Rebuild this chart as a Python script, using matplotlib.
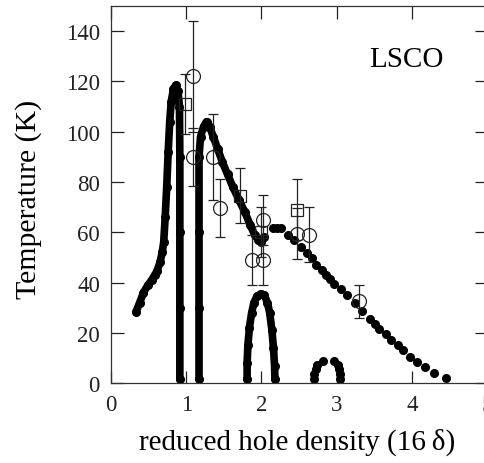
import matplotlib
matplotlib.use("Agg")
import matplotlib.pyplot as plt

plt.rcParams["font.family"] = ["Liberation Serif", "DejaVu Serif"]

# theory curve, dense part left of the first vertical line
curve_a_x = [0.33, 0.38, 0.43, 0.49, 0.54, 0.58, 0.61, 0.65, 0.68, 0.70, 0.72,
             0.74, 0.76, 0.78, 0.80, 0.83, 0.86, 0.89, 0.91, 0.915, 0.915,
             0.915, 0.915]
curve_a_t = [28.3, 32, 36, 39, 41, 43, 44.5, 48, 52, 56, 66,
             78, 92, 104, 112, 117, 118.5, 116, 110, 90, 60,
             30, 1.5]

# dense part of the second branch
curve_b_x = [1.17, 1.17, 1.17, 1.17, 1.19, 1.23, 1.27, 1.31, 1.36, 1.42, 1.48,
             1.55, 1.62, 1.70, 1.78, 1.85, 1.91, 1.96, 2.00, 2.04]
curve_b_t = [1.5, 30, 60, 90, 98, 102, 104, 102, 98, 93, 88,
             83, 78, 73, 68, 63, 59, 57, 56, 58]

# sparse dots of the high-density tail
tail_x = [2.16, 2.21, 2.26, 2.355, 2.44, 2.53, 2.60, 2.67, 2.73, 2.80, 2.86,
          2.91, 2.97, 3.06, 3.14, 3.24, 3.34, 3.44, 3.51, 3.57, 3.66, 3.73,
          3.82, 3.88, 3.97, 4.07, 4.17, 4.29, 4.45]
tail_t = [61.6, 61.8, 61.6, 59, 57, 54, 51.6, 49.6, 47, 45, 43,
          41.5, 39.6, 37.6, 35.2, 32, 28.6, 25.6, 23.6, 21.6, 19.6, 17,
          15, 13, 10.3, 8.5, 6.3, 4, 1.9]

# dome near 2
dome_x = [1.81, 1.81, 1.82, 1.84, 1.87, 1.90, 1.94, 1.99, 2.04, 2.08, 2.11,
          2.14, 2.16, 2.175, 2.18]
dome_t = [1.5, 8, 15, 22, 28, 32, 34.5, 35.5, 35, 32, 28,
          21, 14, 7, 1.5]

# small dome near 3
small_x = [2.70, 2.705, 2.72, 2.74, 2.82, 2.97, 3.02, 3.035, 3.045, 3.05]
small_t = [1.5, 3.5, 5.5, 7.4, 9, 9, 7.4, 5.5, 3.5, 1.5]

# experimental points
circ_x = [1.09, 1.09, 1.36, 1.45, 1.87, 2.02, 2.02, 2.47, 2.63, 3.30]
circ_t = [122, 90, 90, 69.5, 49, 49, 65, 59.5, 59, 32.5]
circ_err = [22, 11.5, 17, 11.5, 10, 10, 10, 10, 11, 6.7]

sq_x = [0.98, 1.71, 2.00, 2.47]
sq_t = [111, 74.5, 60, 69]
sq_err = [12, 11, 10, 12]

fig = plt.figure(figsize=(4.85, 4.64), dpi=100)
ax = fig.add_axes([0.229, 0.172, 0.775, 0.813])

dot = dict(color="black", marker="o", markersize=5.5)
ax.plot(curve_a_x, curve_a_t, linestyle="-", lw=5.5, solid_capstyle="round", **dot)
ax.plot(curve_b_x, curve_b_t, linestyle="-", lw=5.5, solid_capstyle="round", **dot)
ax.plot(dome_x, dome_t, linestyle="-", lw=5.5, solid_capstyle="round", **dot)
ax.plot(tail_x, tail_t, linestyle="none", **dot)
ax.plot(small_x, small_t, linestyle="none", **dot)

ax.errorbar(circ_x, circ_t, yerr=circ_err, fmt="o", ms=10, mfc="none",
            mec="#222222", mew=0.9, ecolor="#222222", elinewidth=0.9,
            capsize=3.5, capthick=0.9)
ax.errorbar(sq_x, sq_t, yerr=sq_err, fmt="s", ms=8.5, mfc="none",
            mec="#222222", mew=0.9, ecolor="#222222", elinewidth=0.9,
            capsize=3.5, capthick=0.9)

ax.set_xlim(0, 5)
ax.set_ylim(0, 150)
ax.set_xticks([0, 1, 2, 3, 4, 5])
ax.set_yticks([0, 20, 40, 60, 80, 100, 120, 140])
ax.tick_params(direction="in", length=9, width=0.9, top=True, right=True,
               labelsize=16.5, colors="#222222", pad=8)
for s in ax.spines.values():
    s.set_linewidth(0.9)
    s.set_color("#333333")

ax.set_xlabel("reduced hole density (16\u2009δ)", fontsize=21)
ax.xaxis.set_label_coords(0.495, -0.118)
ax.set_ylabel("Temperature (K)", fontsize=21.5)
ax.yaxis.set_label_coords(-0.184, 0.49)
ax.text(3.93, 129, "LSCO", fontsize=21, ha="center", va="center")

fig.savefig("out.png", dpi=100)
